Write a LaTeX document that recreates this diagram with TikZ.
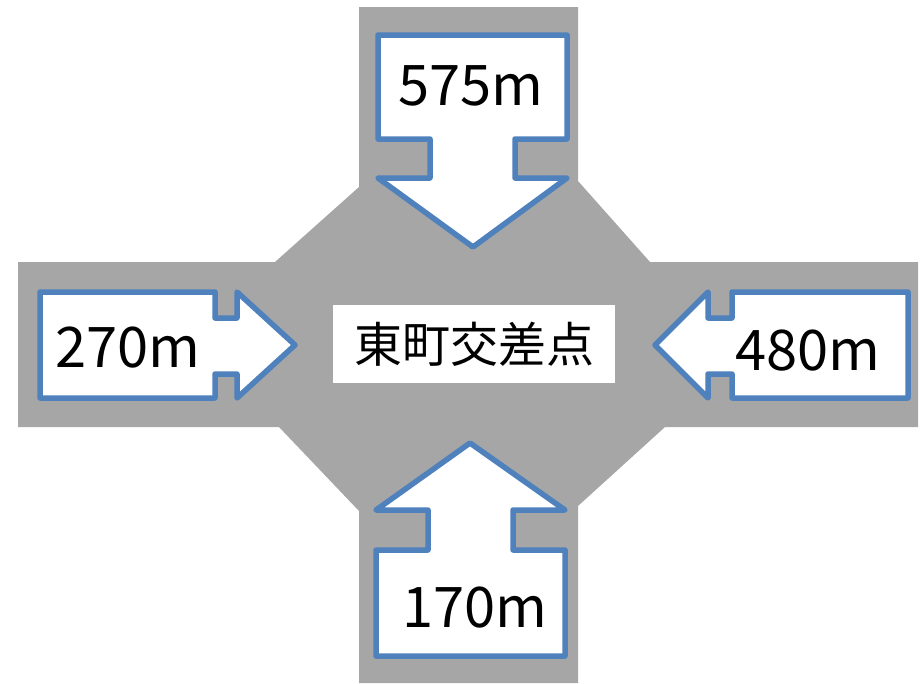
\documentclass[tikz,border=0pt]{standalone}
\usepackage{fontspec}
\setmainfont{Noto Sans CJK JP}
\definecolor{road}{HTML}{A6A6A6}
\definecolor{arrowline}{HTML}{4F81BD}

\begin{document}
\begin{tikzpicture}[x=1pt, y=-1pt,
        arrowbox/.style={draw=arrowline, fill=white, line width=5.5pt, line join=round},
        dist/.style={inner sep=0pt, anchor=base, font=\fontsize{56}{60}\selectfont}]
        \useasboundingbox (0,0) rectangle (921,683);
        \fill[road] (359,7) -- (578,7) -- (578,181) -- (650,262) -- (918,262) -- (918,427) -- (665,427) -- (578,506) -- (578,683) -- (359,683) -- (359,511) -- (279,427) -- (18,427) -- (18,262) -- (275,262) -- (359,187) -- cycle;
        \draw[arrowbox] (378,35) -- (567,35) -- (567,139) -- (515,139) -- (515,178) -- (567,178) -- (473,247) -- (378,178) -- (430,178) -- (430,139) -- (378,139) -- cycle;
        \draw[arrowbox] (470,443) -- (565,510) -- (513,510) -- (513,550) -- (565,550) -- (565,656) -- (376,656) -- (376,550) -- (428,550) -- (428,510) -- (376,510) -- cycle;
        \draw[arrowbox] (40,292) -- (215,292) -- (215,318) -- (237,318) -- (237,292) -- (295,345) -- (237,398) -- (237,374) -- (215,374) -- (215,398) -- (40,398) -- cycle;
        \draw[arrowbox] (908,292) -- (732,292) -- (732,318) -- (708,318) -- (708,292) -- (655,345) -- (708,398) -- (708,374) -- (732,374) -- (732,398) -- (908,398) -- cycle;
        \node[fill=white, minimum width=282pt, minimum height=78pt, inner sep=0pt, font=\fontsize{48}{52}\selectfont] (cross) at (474,344) {東町交差点};
        \node[dist] (north) at (471,105) {575m};
        \node[dist] (west) at (128,367) {270m};
        \node[dist] (east) at (808,370) {480m};
        \node[dist] (south) at (475,627) {170m};
    \end{tikzpicture}
\end{document}
